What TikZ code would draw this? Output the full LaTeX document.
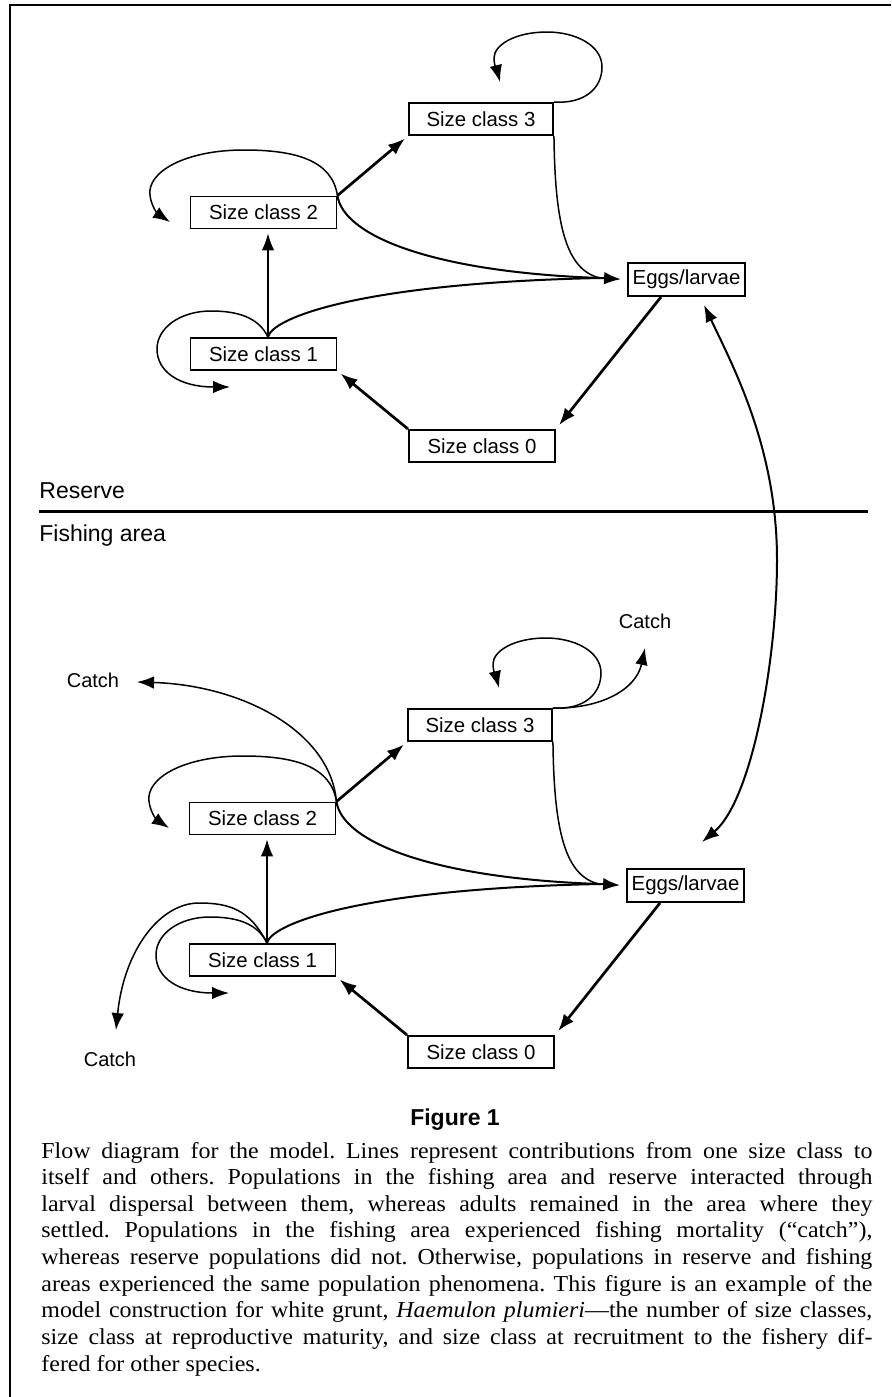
\documentclass[tikz,border=0pt]{standalone}
\usepackage{fontspec}
\setmainfont{Liberation Serif}
\setsansfont{Liberation Sans}
\newfontfamily\capfont{Liberation Serif}[FakeStretch=1.05]
\usetikzlibrary{arrows.meta}
\tikzset{
  box/.style={draw, line width=0.95pt, minimum width=73pt, minimum height=16pt, inner sep=0pt,
    font=\sffamily\fontsize{10.2pt}{12pt}\selectfont},
  arr/.style={-{Latex[length=8.5pt,width=6.3pt]}},
  darr/.style={{Latex[length=8.5pt,width=6.3pt]}-{Latex[length=8.5pt,width=6.3pt]}},
  thinl/.style={line width=0.75pt},
  midl/.style={line width=1pt},
  thickl/.style={line width=1.35pt},
  lbl/.style={inner sep=0pt, font=\sffamily\fontsize{10pt}{12pt}\selectfont},
  area/.style={inner sep=0pt, font=\sffamily\fontsize{11.5pt}{13pt}\selectfont}
}
\newcommand{\flowpart}[1]{%
  \node[box, minimum width=72pt] (#1s3) at (481,119) {Size class 3};
  \node[box] (#1s2) at (263.5,212.5) {Size class 2};
  \node[box, minimum width=58.5pt, minimum height=16.5pt] (#1se) at (686.5,279.5) {Eggs/larvae};
  \node[box] (#1s1) at (263.5,354) {Size class 1};
  \node[box] (#1s0) at (482,446) {Size class 0};
  \coordinate (#1m) at (600,278);
  \coordinate (#1j) at ([xshift=2.25pt]#1s1.north);
  % size 2 -> size 3
  \draw[arr, thickl, shorten >=2pt] (#1s2.north east) -- (#1s3.south west);
  % size 2 self loop
  \draw[arr, thinl] (#1s2.north east) .. controls (332,160) and (295,150) .. (244,150)
     .. controls (185,150) and (147,172) .. (150,195)
     .. controls (151,206) and (158,214) .. (170,222);
  % size 3 self loop
  \draw[arr, thinl] (#1s3.north east) .. controls (585,104) and (602,88) .. (602,67)
     .. controls (602,45) and (575,32) .. (547,32)
     .. controls (515,32) and (494,45) .. (494,58)
     .. controls (494,66) and (498,74) .. (500,82);
  % contributions to eggs
  \draw[thinl] (#1s3.south east) .. controls (555,225) and (566,270) .. (#1m);
  \draw[midl] (#1s2.north east) .. controls (343,235) and (430,272) .. (#1m);
  \draw[midl] (#1j) .. controls (272,318) and (360,283) .. (#1m);
  \draw[arr, midl, shorten >=3pt] (#1m) -- (#1se.west);
  % size 1 -> size 2
  \draw[arr, thinl, shorten >=2pt] (#1j) -- (#1j |- #1s2.south);
  % size 1 self loop
  \draw[arr, thinl] (#1j) .. controls (258,316) and (235,311) .. (211,311)
     .. controls (180,311) and (157,328) .. (157,349)
     .. controls (157,372) and (180,387) .. (230,387);
  % size 0 -> size 1
  \draw[arr, thickl, shorten >=2pt] (#1s0.north west) -- (#1s1.south east);
  % eggs -> size 0
  \draw[arr, thickl, shorten >=2.5pt] ([xshift=-12.75pt]#1se.south) -- (#1s0.north east);
}
\begin{document}
\begin{tikzpicture}[x=0.5pt, y=-0.5pt]
  \useasboundingbox (0,0) rectangle (891,1397);
  % frame
  \draw[line width=1.1pt] (10,1397) -- (10,5) -- (891,5);
  % reserve part
  \begin{scope}
    \flowpart{a}
  \end{scope}
  % fishing part
  \begin{scope}[shift={(-1,606)}]
    \flowpart{b}
  \end{scope}
  % separator and area labels
  \node[area, anchor=base west] (res) at (39,498) {Reserve};
  \node[area, anchor=base west] (fish) at (39,541) {Fishing area};
  \coordinate (sepl) at (39,511);
  \coordinate (sepr) at (868,511);
  \draw[line width=1.5pt] (sepl) -- (sepr);
  % larval dispersal
  \coordinate (dtop) at (704,305);
  \coordinate (dbot) at (702,842);
  \draw[darr, midl] (dtop) .. controls (735,370) and (777,450) .. (777,560)
     .. controls (777,660) and (752,800) .. (dbot);
  % catches
  \node[lbl] (c2) at (93,680) {Catch};
  \node[lbl] (c3) at (645,621) {Catch};
  \node[lbl] (c1) at (110,1059) {Catch};
  \draw[arr, thinl] (bs2.north east) .. controls (330,730) and (240,685) .. (137,682);
  \draw[arr, thinl] (bs3.north east) .. controls (600,709) and (636,690) .. (645,648);
  \draw[arr, thinl] (bj) .. controls (250,910) and (230,903) .. (199,903)
     .. controls (160,903) and (124,950) .. (116,1030);
  % caption
  \node[inner sep=0pt, anchor=base, font=\sffamily\bfseries\fontsize{11.5pt}{13pt}\selectfont] (fig) at (455,1125) {Figure 1};
  \node[inner sep=0pt, anchor=base west, text width=415.5pt, align=justify,
    font=\capfont\fontsize{11.4pt}{13.33pt}\selectfont\frenchspacing] (cap) at (41,1158) {%
Flow diagram for the model. Lines represent contributions from one size class to\linebreak
itself and others. Populations in the fishing area and reserve interacted through\linebreak
larval dispersal between them, whereas adults remained in the area where they\linebreak
settled. Populations in the fishing area experienced fishing mortality (“catch”),\linebreak
whereas reserve populations did not. Otherwise, populations in reserve and fishing\linebreak
areas experienced the same population phenomena. This figure is an example of the\linebreak
model construction for white grunt, \textit{Haemulon plumieri}—the number of size classes,\linebreak
size class at reproductive maturity, and size class at recruitment to the fishery dif-\linebreak
fered for other species.};
\end{tikzpicture}
\end{document}
